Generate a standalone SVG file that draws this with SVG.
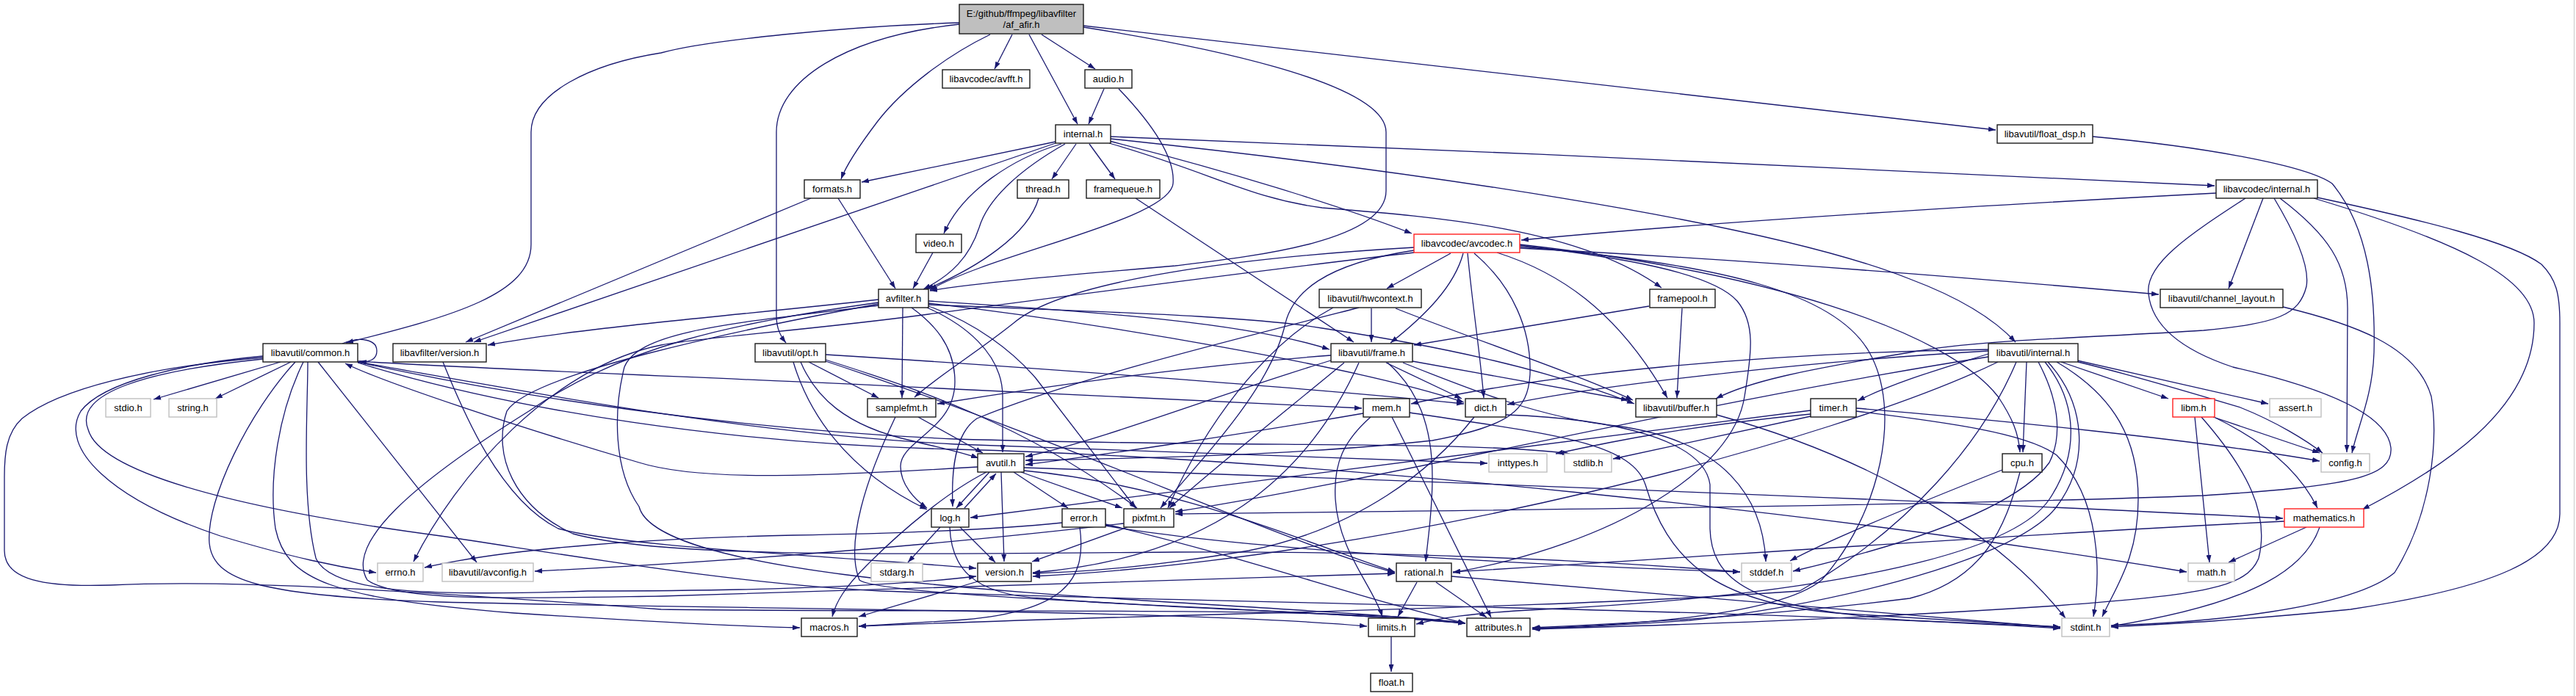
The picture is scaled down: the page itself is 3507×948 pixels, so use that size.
<svg xmlns="http://www.w3.org/2000/svg" width="3507" height="948" viewBox="0 0 3507 948">
<defs>
<marker id="ah" viewBox="0 0 10 7" refX="10" refY="3.5" markerWidth="10" markerHeight="7" markerUnits="userSpaceOnUse" orient="auto"><path d="M0,0 L10,3.5 L0,7 z" fill="#191970"/></marker>
<style>
.e{fill:none;stroke:#191970;stroke-width:1.3;marker-end:url(#ah)}
.n rect{fill:#fff;stroke:#1a1a1a;stroke-width:1.4}
.g rect{fill:#fff;stroke:#bfbfbf;stroke-width:1.4}
.r rect{fill:#fff;stroke:#ff2020;stroke-width:1.4}
text{font-family:"Liberation Sans",Arial,Helvetica,sans-serif;font-size:13px;fill:#000;text-anchor:middle}
</style>
</defs>
<rect x="0" y="0" width="3507" height="948" fill="#fff"/>
<line x1="3504.5" y1="0" x2="3504.5" y2="948" stroke="#c8c8c8" stroke-width="1"/>
<g id="edges">
<path class="e" d="M1378,47 L1354,94"/>
<path class="e" d="M1418,47 L1491,94"/>
<path class="e" d="M1401,47 L1467,169"/>
<path class="e" d="M1348,47 C1290,75 1230,120 1195,165 C1170,198 1152,225 1145,244"/>
<path class="e" d="M1306,31 C1150,36 960,55 900,72 C804,87 723,127 723,180 L723,333 C723,400 620,430 471,467"/>
<path class="e" d="M1306,33 C1150,50 1057,110 1057,180 L1057,430 C1057,448 1063,458 1070,467"/>
<path class="e" d="M1475,37 C1620,60 1887,110 1887,180 L1887,260 C1887,330 1700,350 1600,362 C1450,375 1330,385 1266,396"/>
<path class="e" d="M1475,35 L2717,177"/>
<path class="e" d="M1503,121 L1482,169"/>
<path class="e" d="M1523,121 C1570,170 1600,215 1597,250 C1592,300 1350,345 1266,395"/>
<path class="e" d="M1437,193 L1173,248"/>
<path class="e" d="M1437,195 L645,466"/>
<path class="e" d="M1445,196 C1380,215 1310,260 1285,318"/>
<path class="e" d="M1450,196 C1390,230 1345,270 1333,310 C1320,350 1295,375 1257,394"/>
<path class="e" d="M1465,196 L1432,244"/>
<path class="e" d="M1483,196 L1518,244"/>
<path class="e" d="M1512,186 C2000,205 2600,232 3015,253"/>
<path class="e" d="M1512,189 C1900,230 2400,300 2600,380 C2680,410 2720,440 2744,466"/>
<path class="e" d="M1510,192 C1700,240 1850,290 1922,318"/>
<path class="e" d="M1510,195 C1650,235 1700,270 1800,283 C1950,295 2150,310 2262,392"/>
<path class="e" d="M1141,270 L1219,393"/>
<path class="e" d="M1104,270 L634,466"/>
<path class="e" d="M1414,270 C1400,320 1330,365 1261,394"/>
<path class="e" d="M1546,270 L1843,466"/>
<path class="e" d="M1270,344 L1243,393"/>
<path class="e" d="M1196,408 C1000,430 800,445 664,470"/>
<path class="e" d="M1229,419 L1228,542"/>
<path class="e" d="M1241,419 C1270,440 1300,470 1300,520 C1300,585 1226,600 1226,635 C1226,660 1245,680 1262,692"/>
<path class="e" d="M1262,419 C1310,440 1365,480 1365,540 L1365,616"/>
<path class="e" d="M1264,417 C1330,440 1380,480 1410,515 L1546,692"/>
<path class="e" d="M1264,410 C1500,425 1700,440 1810,476"/>
<path class="e" d="M1264,413 C1500,440 1850,500 1993,548"/>
<path class="e" d="M1264,415 C1500,425 1700,430 1800,447 C1950,470 2100,500 2225,550"/>
<path class="e" d="M1196,412 C1000,440 850,470 720,560 C560,660 470,740 500,790 C540,820 700,815 900,812 C1300,800 1700,790 1899,781"/>
<path class="e" d="M1196,414 C1000,450 720,510 690,560 C670,620 700,690 780,727 C900,760 1200,755 1600,752 C1900,750 2200,765 2369,779"/>
<path class="e" d="M1196,416 C1000,440 870,450 850,500 C835,560 835,640 870,690 C900,810 1700,815 1995,849"/>
<path class="e" d="M2849,186 C3000,200 3140,225 3175,250 C3225,310 3234,400 3232,480 C3230,540 3210,580 3202,617"/>
<path class="e" d="M3017,263 C2600,285 2300,305 2071,327"/>
<path class="e" d="M3081,270 L3034,393"/>
<path class="e" d="M3096,270 C3120,310 3145,360 3140,390 C3130,430 3100,440 3000,450 C2850,460 2700,462 2600,480 C2450,505 2380,520 2336,543"/>
<path class="e" d="M3057,270 C2980,320 2920,360 2925,400 C2930,450 2980,480 3040,500 C3150,525 3250,560 3255,610 C3258,650 3200,662 3000,675 C2600,690 2000,695 1600,700"/>
<path class="e" d="M3104,270 C3170,320 3196,360 3196,420 L3195,616"/>
<path class="e" d="M3150,270 C3350,330 3450,380 3450,440 C3450,560 3320,640 3216,694"/>
<path class="e" d="M3150,268 C3300,300 3420,330 3460,360 C3480,380 3485,400 3485,440 L3485,700 C3485,760 3400,800 3200,830 C3050,845 2950,850 2874,854"/>
<path class="e" d="M1975,345 L1888,393"/>
<path class="e" d="M1992,345 C1980,390 1940,430 1893,467"/>
<path class="e" d="M1998,345 C2005,420 2015,480 2020,542"/>
<path class="e" d="M2007,345 C2060,390 2085,450 2083,510 C2080,560 2055,580 1950,600 C1750,622 1500,625 1396,627"/>
<path class="e" d="M2038,344 C2120,370 2200,420 2270,542"/>
<path class="e" d="M1925,337 C1700,350 1450,380 1380,440 C1330,480 1280,510 1245,541"/>
<path class="e" d="M1925,344 C1700,370 1400,410 1264,428 C1100,450 950,460 900,470 C750,500 620,650 563,765"/>
<path class="e" d="M2069,336 C2350,360 2500,400 2545,480 C2590,560 2560,700 2480,790 C2420,840 2200,852 2087,856"/>
<path class="e" d="M2069,333 C2400,370 2650,450 2720,540 C2740,570 2748,590 2750,616"/>
<path class="e" d="M2069,338 C2400,355 2700,380 2939,401"/>
<path class="e" d="M1925,341 C1800,360 1760,400 1750,440 C1730,530 1640,620 1580,692"/>
<path class="e" d="M2069,334 C2200,350 2330,370 2365,410 C2390,440 2385,480 2375,540 C2360,640 2200,740 1978,780"/>
<path class="e" d="M1867,420 L1867,466"/>
<path class="e" d="M1900,420 C2000,460 2150,510 2223,545"/>
<path class="e" d="M1850,419 C1650,470 1450,520 1330,570 C1300,590 1295,640 1297,690"/>
<path class="e" d="M1815,419 C1720,470 1640,580 1590,692"/>
<path class="e" d="M2245,417 L1925,470"/>
<path class="e" d="M2290,420 L2283,542"/>
<path class="e" d="M3108,418 C3200,440 3290,470 3310,540 C3320,600 3310,700 3260,780 C3200,830 3000,848 2874,852"/>
<path class="e" d="M466,468 C490,458 513,462 513,478 C513,490 502,494 489,492"/>
<path class="e" d="M382,493 L209,544"/>
<path class="e" d="M396,493 L293,543"/>
<path class="e" d="M358,485 C250,495 140,520 110,560 C80,610 150,680 300,730 C400,760 460,772 512,780"/>
<path class="e" d="M433,493 L649,766"/>
<path class="e" d="M402,493 C340,560 280,680 285,740 C290,790 350,812 600,820 C1000,830 1600,830 1861,853"/>
<path class="e" d="M413,493 C380,560 365,650 375,720 C390,790 450,815 700,835 C900,848 1000,853 1089,855"/>
<path class="e" d="M419,493 C419,560 410,680 430,760 C450,810 600,812 800,805 C1000,805 1200,800 1329,785"/>
<path class="e" d="M358,487 C200,500 80,530 30,570 C8,590 6,620 6,650 L6,750 C6,790 60,800 150,797 C300,790 500,800 900,830 C1300,835 1850,825 1995,849"/>
<path class="e" d="M358,489 C200,505 100,535 120,585 C135,640 300,690 600,730 C800,760 1000,795 1200,805 C1600,820 2400,830 2805,856"/>
<path class="e" d="M487,492 C700,505 1000,515 1300,530 C1600,545 1750,552 1854,556"/>
<path class="e" d="M487,493 C700,530 1000,590 1300,605 C1600,615 1850,625 2025,631"/>
<path class="e" d="M487,493 C700,540 1000,585 1300,598 C1700,610 2000,600 2137,618"/>
<path class="e" d="M487,494 C700,560 1000,605 1300,612 C1800,625 2500,700 2977,779"/>
<path class="e" d="M603,493 C630,560 680,680 760,720 C850,745 1100,755 1329,774"/>
<path class="e" d="M1101,493 L1196,542"/>
<path class="e" d="M1090,493 C1110,540 1150,580 1240,600 C1280,610 1310,616 1332,624"/>
<path class="e" d="M1080,493 C1100,560 1150,640 1262,694"/>
<path class="e" d="M1124,490 C1250,530 1400,580 1548,692"/>
<path class="e" d="M1124,483 C1400,500 1800,530 1993,550"/>
<path class="e" d="M1124,492 C1450,600 1750,740 1899,780"/>
<path class="e" d="M1250,568 L1338,617"/>
<path class="e" d="M1219,568 C1180,650 1150,740 1170,790 C1200,815 1800,830 1995,849"/>
<path class="e" d="M1331,636 C1100,650 950,655 870,630 C700,580 520,520 470,495"/>
<path class="e" d="M1380,643 L1454,692"/>
<path class="e" d="M1363,643 L1367,765"/>
<path class="e" d="M1343,643 C1290,670 1230,720 1180,770 C1150,800 1138,820 1133,840"/>
<path class="e" d="M1347,643 L1302,692"/>
<path class="e" d="M1390,643 L1528,692"/>
<path class="e" d="M1394,637 C1800,650 2600,680 3108,706"/>
<path class="e" d="M1394,641 C1600,660 1780,740 1899,779"/>
<path class="e" d="M1313,692 L1356,645"/>
<path class="e" d="M1307,718 L1355,766"/>
<path class="e" d="M1293,718 C1295,770 1320,810 1420,815 C1600,830 1800,832 1995,849"/>
<path class="e" d="M1280,718 L1236,766"/>
<path class="e" d="M1446,712 C1350,722 1200,727 1080,729 C900,733 700,745 578,773"/>
<path class="e" d="M1505,716 C1700,750 2100,770 2369,779"/>
<path class="e" d="M1505,714 C1700,760 1850,815 1995,849"/>
<path class="e" d="M1470,718 C1480,790 1450,835 1300,845 L1169,853"/>
<path class="e" d="M1535,718 L1405,765"/>
<path class="e" d="M1530,713 C1300,740 1000,765 728,778"/>
<path class="e" d="M1331,792 L1169,840"/>
<path class="e" d="M1866,568 C1830,600 1815,630 1818,680 C1822,750 1870,800 1882,840"/>
<path class="e" d="M1895,568 L2030,841"/>
<path class="e" d="M1919,562 C2100,590 2220,600 2240,660 C2270,760 2330,820 2500,835 C2650,845 2750,850 2805,854"/>
<path class="e" d="M1856,563 C1700,590 1500,620 1396,633"/>
<path class="e" d="M2007,568 C1950,640 1850,720 1700,750 C1550,775 1450,780 1406,781"/>
<path class="e" d="M2050,565 C2200,570 2320,600 2328,660 L2328,720 C2330,800 2400,830 2600,845 C2700,850 2760,852 2805,854"/>
<path class="e" d="M2337,565 C2500,610 2700,700 2812,842"/>
<path class="e" d="M1887,494 L1990,543"/>
<path class="e" d="M1923,492 L2217,545"/>
<path class="e" d="M1910,494 C2000,530 2100,570 2200,580 C2350,600 2400,680 2404,765"/>
<path class="e" d="M1889,494 C1930,530 1950,580 1950,650 C1950,700 1943,740 1941,765"/>
<path class="e" d="M1812,484 C1600,500 1400,530 1276,550"/>
<path class="e" d="M1830,494 C1750,560 1650,640 1592,692"/>
<path class="e" d="M1815,490 C1650,540 1500,600 1396,622"/>
<path class="e" d="M1850,494 C1780,650 1650,760 1406,780"/>
<path class="e" d="M2465,567 L2196,625"/>
<path class="e" d="M2465,564 C2300,580 2200,600 2118,618"/>
<path class="e" d="M2527,556 C2700,570 3000,600 3158,628"/>
<path class="e" d="M2527,560 C2650,575 2760,590 2800,620 C2860,680 2860,780 2850,840"/>
<path class="e" d="M2465,559 L1321,705"/>
<path class="e" d="M2726,640 C2600,690 2480,740 2437,764"/>
<path class="e" d="M2750,643 C2730,720 2700,790 2600,815 C2400,840 2200,850 2086,855"/>
<path class="e" d="M2988,568 L3008,766"/>
<path class="e" d="M3013,568 L3158,617"/>
<path class="e" d="M3016,569 C3080,600 3130,640 3155,692"/>
<path class="e" d="M2997,568 C3060,640 3090,700 3075,760 C3060,800 3000,810 2800,825 C2500,845 2250,852 2086,857"/>
<path class="e" d="M3140,718 L3034,766"/>
<path class="e" d="M3158,718 C3140,770 3080,820 2874,853"/>
<path class="e" d="M3110,710 C2700,730 2300,760 1978,779"/>
<path class="e" d="M1929,793 L1903,840"/>
<path class="e" d="M1955,793 L2024,841"/>
<path class="e" d="M1976,785 C2300,810 2600,840 2805,855"/>
<path class="e" d="M1894,867 L1894,915"/>
<path class="e" d="M2806,493 L2952,543"/>
<path class="e" d="M2828,491 L3088,550"/>
<path class="e" d="M2829,493 C2900,510 3000,540 3050,555 C3100,575 3140,600 3162,617"/>
<path class="e" d="M2759,493 L2754,616"/>
<path class="e" d="M2800,493 C2880,540 2911,600 2911,680 C2911,760 2880,800 2862,840"/>
<path class="e" d="M2707,482 C2650,500 2580,520 2529,546"/>
<path class="e" d="M2707,478 C2500,490 2200,520 2052,551"/>
<path class="e" d="M2707,476 C2400,480 2100,510 1921,550"/>
<path class="e" d="M2707,486 C2300,550 1900,650 1600,697"/>
<path class="e" d="M2720,493 C2500,600 1900,760 1406,785"/>
<path class="e" d="M2775,493 C2800,540 2810,590 2790,630 C2740,700 2560,750 2441,778"/>
<path class="e" d="M2784,493 C2830,550 2830,620 2790,680 C2730,770 2400,815 2100,830 C2000,835 1960,842 1928,850"/>
<path class="e" d="M2788,493 C2840,550 2845,630 2800,690 C2740,770 2450,830 2300,845 C2200,852 2130,855 2086,856"/>
<path class="e" d="M2745,493 C2700,600 2600,720 2450,805 C2100,830 1600,835 1169,853"/>
</g>
<g id="n_root" class="n"><rect x="1306" y="6" width="169" height="40" style="fill:#bfbfbf"/><text x="1390.5" y="23">E:/github/ffmpeg/libavfilter</text><text x="1390.5" y="38">/af_afir.h</text></g>
<g id="n_avfft" class="n"><rect x="1283" y="95" width="119" height="25"/><text x="1342.5" y="112">libavcodec/avfft.h</text></g>
<g id="n_audio" class="n"><rect x="1477" y="95" width="64" height="25"/><text x="1509" y="112">audio.h</text></g>
<g id="n_finternal" class="n"><rect x="1437" y="170" width="75" height="25"/><text x="1474.5" y="187">internal.h</text></g>
<g id="n_float_dsp" class="n"><rect x="2719" y="170" width="130" height="25"/><text x="2784" y="187">libavutil/float_dsp.h</text></g>
<g id="n_formats" class="n"><rect x="1095" y="245" width="76" height="25"/><text x="1133" y="262">formats.h</text></g>
<g id="n_thread" class="n"><rect x="1385" y="245" width="70" height="25"/><text x="1420" y="262">thread.h</text></g>
<g id="n_framequeue" class="n"><rect x="1479" y="245" width="100" height="25"/><text x="1529" y="262">framequeue.h</text></g>
<g id="n_lcinternal" class="n"><rect x="3017" y="245" width="138" height="25"/><text x="3086" y="262">libavcodec/internal.h</text></g>
<g id="n_video" class="n"><rect x="1247" y="319" width="62" height="25"/><text x="1278" y="336">video.h</text></g>
<g id="n_avcodec" class="r"><rect x="1925" y="319" width="144" height="25"/><text x="1997" y="336">libavcodec/avcodec.h</text></g>
<g id="n_avfilter" class="n"><rect x="1196" y="394" width="68" height="25"/><text x="1230" y="411">avfilter.h</text></g>
<g id="n_hwcontext" class="n"><rect x="1796" y="394" width="139" height="25"/><text x="1865.5" y="411">libavutil/hwcontext.h</text></g>
<g id="n_framepool" class="n"><rect x="2246" y="394" width="89" height="25"/><text x="2290.5" y="411">framepool.h</text></g>
<g id="n_channel_layout" class="n"><rect x="2941" y="394" width="167" height="25"/><text x="3024.5" y="411">libavutil/channel_layout.h</text></g>
<g id="n_common" class="n"><rect x="358" y="468" width="129" height="25"/><text x="422.5" y="485">libavutil/common.h</text></g>
<g id="n_fversion" class="n"><rect x="535" y="468" width="127" height="25"/><text x="598.5" y="485">libavfilter/version.h</text></g>
<g id="n_opt" class="n"><rect x="1028" y="468" width="96" height="25"/><text x="1076" y="485">libavutil/opt.h</text></g>
<g id="n_frame" class="n"><rect x="1812" y="468" width="111" height="25"/><text x="1867.5" y="485">libavutil/frame.h</text></g>
<g id="n_uinternal" class="n"><rect x="2707" y="468" width="122" height="25"/><text x="2768" y="485">libavutil/internal.h</text></g>
<g id="n_stdio" class="g"><rect x="144" y="543" width="61" height="25"/><text x="174.5" y="560">stdio.h</text></g>
<g id="n_string" class="g"><rect x="230" y="543" width="65" height="25"/><text x="262.5" y="560">string.h</text></g>
<g id="n_samplefmt" class="n"><rect x="1181" y="543" width="93" height="25"/><text x="1227.5" y="560">samplefmt.h</text></g>
<g id="n_mem" class="n"><rect x="1856" y="543" width="63" height="25"/><text x="1887.5" y="560">mem.h</text></g>
<g id="n_dict" class="n"><rect x="1995" y="543" width="55" height="25"/><text x="2022.5" y="560">dict.h</text></g>
<g id="n_buffer" class="n"><rect x="2227" y="543" width="110" height="25"/><text x="2282" y="560">libavutil/buffer.h</text></g>
<g id="n_timer" class="n"><rect x="2465" y="543" width="62" height="25"/><text x="2496" y="560">timer.h</text></g>
<g id="n_libm" class="r"><rect x="2958" y="543" width="57" height="25"/><text x="2986.5" y="560">libm.h</text></g>
<g id="n_assert" class="g"><rect x="3090" y="543" width="70" height="25"/><text x="3125" y="560">assert.h</text></g>
<g id="n_avutil" class="n"><rect x="1331" y="618" width="63" height="25"/><text x="1362.5" y="635">avutil.h</text></g>
<g id="n_inttypes" class="g"><rect x="2027" y="618" width="79" height="25"/><text x="2066.5" y="635">inttypes.h</text></g>
<g id="n_stdlib" class="g"><rect x="2130" y="618" width="64" height="25"/><text x="2162" y="635">stdlib.h</text></g>
<g id="n_cpu" class="n"><rect x="2726" y="618" width="54" height="25"/><text x="2753" y="635">cpu.h</text></g>
<g id="n_config" class="g"><rect x="3160" y="618" width="66" height="25"/><text x="3193" y="635">config.h</text></g>
<g id="n_log" class="n"><rect x="1268" y="693" width="51" height="25"/><text x="1293.5" y="710">log.h</text></g>
<g id="n_error" class="n"><rect x="1446" y="693" width="59" height="25"/><text x="1475.5" y="710">error.h</text></g>
<g id="n_pixfmt" class="n"><rect x="1530" y="693" width="68" height="25"/><text x="1564" y="710">pixfmt.h</text></g>
<g id="n_mathematics" class="r"><rect x="3110" y="693" width="108" height="25"/><text x="3164" y="710">mathematics.h</text></g>
<g id="n_errno" class="g"><rect x="514" y="767" width="62" height="25"/><text x="545" y="784">errno.h</text></g>
<g id="n_avconfig" class="g"><rect x="602" y="767" width="124" height="25"/><text x="664" y="784">libavutil/avconfig.h</text></g>
<g id="n_stdarg" class="g"><rect x="1186" y="767" width="70" height="25"/><text x="1221" y="784">stdarg.h</text></g>
<g id="n_version" class="n"><rect x="1331" y="767" width="73" height="25"/><text x="1367.5" y="784">version.h</text></g>
<g id="n_rational" class="n"><rect x="1901" y="767" width="75" height="25"/><text x="1938.5" y="784">rational.h</text></g>
<g id="n_stddef" class="g"><rect x="2371" y="767" width="68" height="25"/><text x="2405" y="784">stddef.h</text></g>
<g id="n_math" class="g"><rect x="2979" y="767" width="63" height="25"/><text x="3010.5" y="784">math.h</text></g>
<g id="n_macros" class="n"><rect x="1091" y="842" width="76" height="25"/><text x="1129" y="859">macros.h</text></g>
<g id="n_limits" class="n"><rect x="1863" y="842" width="63" height="25"/><text x="1894.5" y="859">limits.h</text></g>
<g id="n_attributes" class="n"><rect x="1997" y="842" width="86" height="25"/><text x="2040" y="859">attributes.h</text></g>
<g id="n_stdint" class="g"><rect x="2807" y="842" width="65" height="25"/><text x="2839.5" y="859">stdint.h</text></g>
<g id="n_float" class="n"><rect x="1866" y="917" width="57" height="25"/><text x="1894.5" y="934">float.h</text></g>
</svg>
